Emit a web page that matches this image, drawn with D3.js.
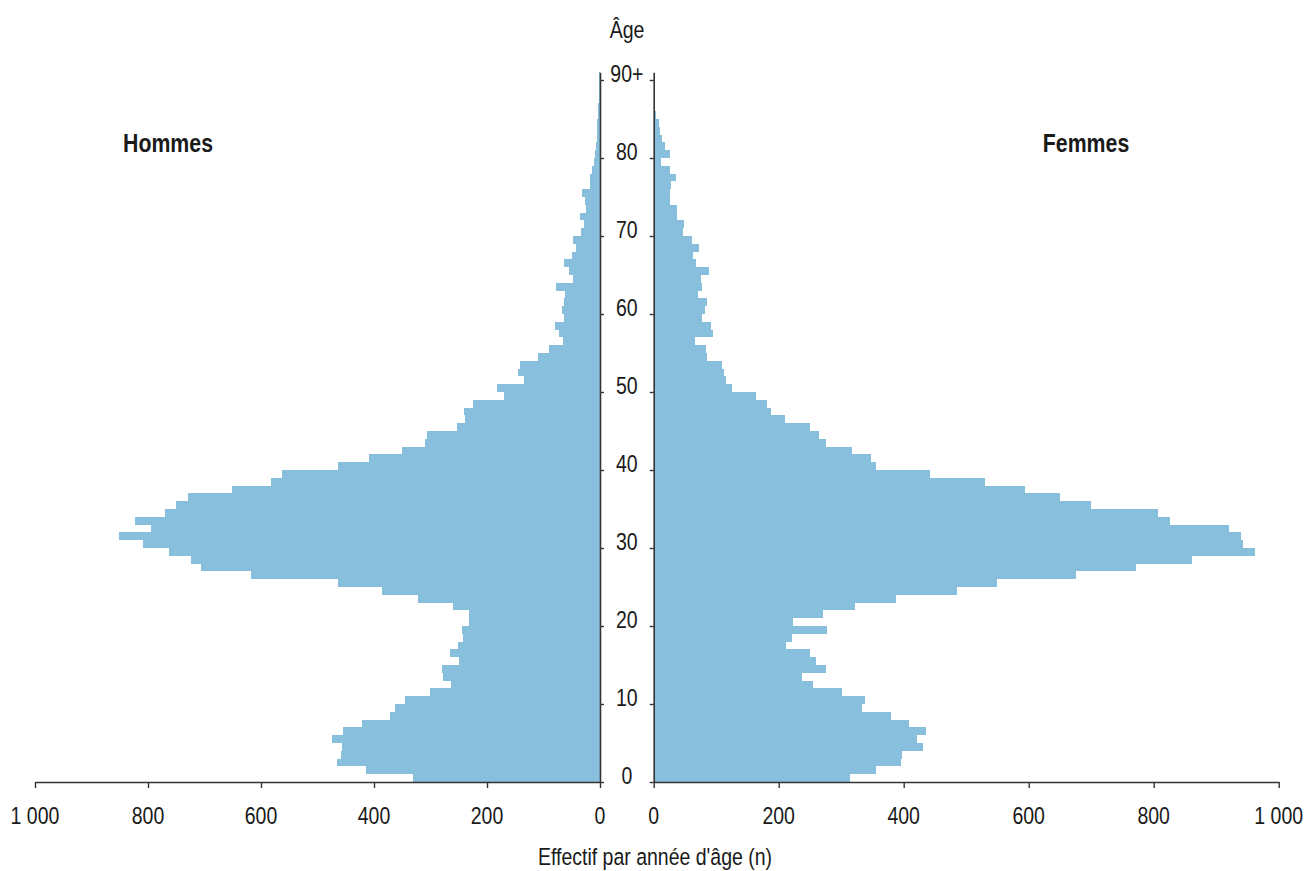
<!DOCTYPE html>
<html>
<head>
<meta charset="utf-8">
<script src="https://cdn.jsdelivr.net/npm/d3@7"></script>
<style>
  html, body { margin: 0; padding: 0; background: #fff; }
  svg text { font-family: "Liberation Sans", Arial, sans-serif; fill: #1a1a1a; }
</style>
</head>
<body>
<svg id="chart" width="1312" height="871"></svg>
<script>
// ---- data ----
const ages = d3.range(0, 91);
const ageTicks = [0, 10, 20, 30, 40, 50, 60, 70, 80, 90];
const ageTickLabels = ["0", "10", "20", "30", "40", "50", "60", "70", "80", "90+"];
const countTicks = [0, 200, 400, 600, 800, 1000];
const hommes = [
  331, 415, 466, 459, 457, 474, 454, 422, 372, 363,
  345, 301, 264, 277, 279, 250, 266, 252, 242, 244,
  232, 232, 261, 322, 386, 463, 617, 706, 724, 763,
  809, 851, 794, 823, 770, 750, 729, 651, 582, 563,
  463, 408, 350, 310, 307, 253, 239, 241, 225, 170,
  183, 135, 145, 141, 110, 90, 66, 72, 80, 64,
  68, 64, 62, 78, 47, 55, 63, 49, 43, 47,
  34, 29, 35, 25, 27, 31, 18, 18, 14, 10,
  9, 7, 6, 6, 5, 3, 3, 2, 1, 1,
  1
];
const femmes = [
  314, 356, 396, 398, 431, 421, 435, 409, 379, 334,
  338, 302, 255, 238, 275, 259, 250, 212, 222, 277,
  223, 271, 322, 387, 485, 549, 676, 772, 862, 962,
  943, 940, 920, 826, 807, 700, 650, 594, 530, 442,
  356, 347, 318, 276, 264, 250, 210, 187, 182, 164,
  125, 115, 112, 109, 85, 83, 66, 95, 91, 77,
  82, 86, 71, 77, 75, 88, 67, 63, 72, 62,
  47, 48, 38, 38, 26, 26, 28, 35, 26, 11,
  26, 18, 14, 10, 9, 3, 2, 1, 1, 1,
  1
];
const labelHommes = "Hommes";
const labelFemmes = "Femmes";
const labelAge = "Âge";
const labelX = "Effectif par année d'âge (n)";

// ---- layout ----
const svg = d3.select("#chart");
const barColor = "#87bfdd";
const axisColor = "#333";
const SX = 0.83;      // horizontal condensation of the regular font
const FS = 23.5;

const y = d3.scaleLinear().domain([0, 91]).range([782, 72.2]);
const xL = d3.scaleLinear().domain([0, 1000]).range([600, 35]);
const xR = d3.scaleLinear().domain([0, 1000]).range([653.7, 1278.7]);

const fr = d3.formatLocale({decimal: ",", thousands: "\u00a0", grouping: [3], currency: ["", " €"]});
const fmt = fr.format(",d");

function label(parent, x, yy, str, size, weight, sx) {
  return parent.append("text")
    .attr("transform", `translate(${x},${yy}) scale(${sx},1)`)
    .attr("text-anchor", "middle")
    .attr("font-size", size)
    .attr("font-weight", weight || "normal")
    .text(str);
}

// bars
svg.append("g").attr("shape-rendering", "crispEdges")
  .selectAll("rect").data(ages).join("rect")
  .attr("x", d => xL(hommes[d]))
  .attr("width", d => xL(0) - xL(hommes[d]))
  .attr("y", d => y(d + 1))
  .attr("height", d => y(d) - y(d + 1))
  .attr("fill", barColor);

svg.append("g").attr("shape-rendering", "crispEdges")
  .selectAll("rect").data(ages).join("rect")
  .attr("x", xR(0))
  .attr("width", d => xR(femmes[d]) - xR(0))
  .attr("y", d => y(d + 1))
  .attr("height", d => y(d) - y(d + 1))
  .attr("fill", barColor);

// vertical axes
const gyL = svg.append("g").attr("transform", `translate(${xL(0)},0)`)
  .call(d3.axisRight(y).tickValues(ageTicks).tickSize(4).tickSizeOuter(0).tickFormat(""));
const gyR = svg.append("g").attr("transform", `translate(${xR(0)},0)`)
  .call(d3.axisLeft(y).tickValues(ageTicks).tickSize(4).tickSizeOuter(0).tickFormat(""));
[gyL, gyR].forEach(g => {
  g.select(".domain").attr("stroke", axisColor).attr("stroke-width", 1.6);
  g.selectAll(".tick line").attr("stroke", axisColor).attr("stroke-width", 1.4);
});

// age labels in the middle
const gAge = svg.append("g");
ageTicks.forEach((d, i) => label(gAge, (xL(0) + xR(0)) / 2, y(d) + 2, ageTickLabels[i], FS, "normal", SX));

// bottom axes
const gxL = svg.append("g").attr("transform", `translate(0,${y(0)})`)
  .call(d3.axisBottom(xL).tickValues(countTicks).tickSize(6).tickSizeOuter(0).tickFormat(""));
const gxR = svg.append("g").attr("transform", `translate(0,${y(0)})`)
  .call(d3.axisBottom(xR).tickValues(countTicks).tickSize(6).tickSizeOuter(0).tickFormat(""));
[gxL, gxR].forEach(g => {
  g.select(".domain").attr("stroke", axisColor).attr("stroke-width", 1.6);
  g.selectAll(".tick line").attr("stroke", axisColor).attr("stroke-width", 1.4);
});
const gxLab = svg.append("g");
countTicks.forEach(v => label(gxLab, xL(v), 824, fmt(v), FS, "normal", SX));
countTicks.forEach(v => label(gxLab, xR(v), 824, fmt(v), FS, "normal", SX));

// titles
label(svg, 627, 38, labelAge, FS, "normal", SX);
label(svg, 168, 152, labelHommes, 26, "bold", 0.82);
label(svg, 1086, 152, labelFemmes, 26, "bold", 0.82);
label(svg, 655, 865, labelX, FS, "normal", SX);
</script>
</body>
</html>
